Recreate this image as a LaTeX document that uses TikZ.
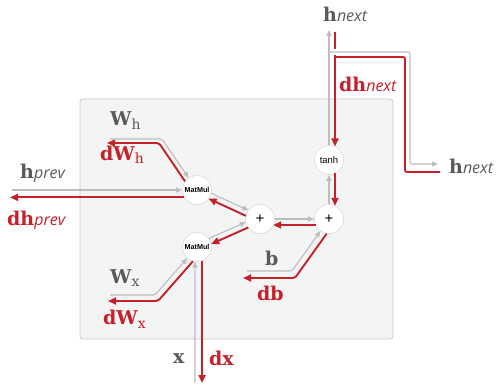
\documentclass[tikz,border=0pt]{standalone}
\usepackage{fontspec}
\setmainfont{DejaVu Serif}
\newfontfamily\subsans{Open Sans}
\newfontfamily\opfont{Liberation Sans}
\usetikzlibrary{arrows.meta,calc}

\definecolor{fwd}{HTML}{BDBDBD}
\definecolor{bwd}{HTML}{C4212B}
\definecolor{lbl}{HTML}{5A5A5A}
\definecolor{panel}{HTML}{F3F4F4}
\definecolor{panelrim}{HTML}{C8CACA}

% subscripts: italic sans for names, upright serif (lowered) for weight indices
\newcommand\lsub[1]{{\fontsize{16}{16}\selectfont\subsans\itshape\mdseries #1}}
\newcommand\lsubr[2][4pt]{\raisebox{-#1}{\fontsize{14}{14}\selectfont\mdseries #2}}

\begin{document}
\begin{tikzpicture}[x=1pt,y=-1pt,
  op/.style={circle, draw=black!14, line width=0.6pt, fill=white,
             minimum size=29pt, inner sep=0pt},
  fw/.style={draw=fwd, line width=1.1pt, rounded corners=2pt,
             -{Triangle[length=6pt,width=5pt]}},
  bw/.style={draw=bwd, line width=1.9pt, rounded corners=2pt,
             -{Triangle[length=8pt,width=7pt]}},
  bwplain/.style={draw=bwd, line width=1.9pt, rounded corners=2pt},
  near/.style={shorten <=14.2pt, shorten >=14.2pt},
  far/.style={shorten <=13.2pt, shorten >=13.2pt},
  gl/.style={anchor=base west, inner sep=0pt, text=lbl,
             font=\fontsize{19}{19}\selectfont\bfseries},
  rl/.style={gl, text=bwd},
  mmtext/.style={font=\fontsize{7.2}{7.2}\selectfont\opfont\bfseries},
]
\useasboundingbox (0,0) rectangle (497,385);

% cell panel
\draw[fill=panel, draw=panelrim, line width=0.8pt, rounded corners=3pt]
  (80,99) rectangle (393,339);

% operation nodes
\node[op, mmtext] (mm1) at (197,190) {MatMul};
\node[op, mmtext] (mm2) at (197,247) {MatMul};
\node[op, font=\fontsize{15}{15}\selectfont\opfont] (p1) at (260,219) {+};
\node[op, font=\fontsize{15}{15}\selectfont\opfont] (p2) at (329,219) {+};
\node[op, font=\fontsize{9.5}{9.5}\selectfont\opfont] (th) at (329,160) {tanh};

% free ends and bends
\coordinate (hpS) at (12,190);
\coordinate (dhpE) at (10,197);
\coordinate (whS) at (110,139);
\coordinate (whC) at (162,139);
\coordinate (dwhC) at (159,143);
\coordinate (dwhE) at (107,143);
\coordinate (wxS) at (110,295);
\coordinate (wxC) at (155,295);
\coordinate (dwxC) at (158,301);
\coordinate (dwxE) at (108,301);
\coordinate (bS) at (247,271);
\coordinate (bC) at (292,271);
\coordinate (dbC) at (295,278);
\coordinate (dbE) at (243,278);
\coordinate (xS) at (195,383);
\coordinate (dxE) at (202,383);
\coordinate (hnT) at (329,30);
\coordinate (dhnT) at (335,32);
\coordinate (brA) at (329,52);
\coordinate (brB) at (410,52);
\coordinate (brC) at (410,164);
\coordinate (hnR) at (438,164);
\coordinate (dhnR) at (440,172);
\coordinate (rC1) at (405,172);
\coordinate (rC2) at (405,57);

% ---- backward pass (red) ----
\draw[bw] (mm1.210) -- (mm1.210 -| dhpE);
\draw[bw] (mm1.144) -- (dwhC) -- (dwhE);
\draw[bw] (mm2.254) -- (dwxC) -- (dwxE);
\draw[bw] (p2.261) -- (dbC) -- (dbE);
\draw[bw] (mm2.290) -- (mm2.290 |- dxE);
\draw[bw, near] ($(p1)!3pt!90:(mm1)$) -- ($(mm1)!3pt!-90:(p1)$);
\draw[bw, near] ($(p1)!3pt!90:(mm2)$) -- ($(mm2)!3pt!-90:(p1)$);
\draw[bw, far] ($(p2)!6pt!90:(p1)$) -- ($(p1)!6pt!-90:(p2)$);
\draw[bw, far] ($(th)!6pt!90:(p2)$) -- ($(p2)!6pt!-90:(th)$);
\draw[bw] (th.66 |- dhnT) -- (th.66);
\draw[bwplain] (dhnR) -- (rC1) -- (rC2) -- (th.66 |- rC2);

% ---- forward pass (grey) ----
\draw[fw] (hpS) -- (mm1);
\draw[fw] (whS) -- (whC) -- (mm1);
\draw[fw] (wxS) -- (wxC) -- (mm2);
\draw[fw] (bS) -- (bC) -- (p2);
\draw[fw] (xS) -- (mm2.262);
\draw[fw, near] ($(mm1)!3pt!90:(p1)$) -- ($(p1)!3pt!-90:(mm1)$);
\draw[fw, near] ($(mm2)!3pt!90:(p1)$) -- ($(p1)!3pt!-90:(mm2)$);
\draw[fw] (p1.east) -- (p2.west);
\draw[fw] (p2.north) -- (th.south);
\draw[fw, preaction={draw=white, line width=6pt, -}] (brA) -- (brB) -- (brC) -- (hnR);
\draw[fw] (th) -- (hnT);

% ---- labels ----
\node[gl] (lhp)  at (20,178)  {h\lsub{prev}};
\node[rl] (ldhp) at (7,225)   {dh\lsub{prev}};
\node[gl] (lwh)  at (110,125) {W\lsubr[4pt]{h}};
\node[rl] (ldwh) at (100,160) {dW\lsubr[3pt]{h}};
\node[gl] (lwx)  at (110,283) {W\lsubr[3pt]{x}};
\node[rl] (ldwx) at (103,324) {dW\lsubr[4pt]{x}};
\node[gl] (lb)   at (265,265) {b};
\node[rl] (ldb)  at (257,300) {db};
\node[gl] (lx)   at (173,363) {x};
\node[rl] (ldx)  at (209,365) {dx};
\node[gl] (lhnT) at (323,22)  {h\lsub{next}};
\node[gl] (lhnR) at (449,173) {h\lsub{next}};
\node[rl] (ldhn) at (339,92)  {dh\lsub{next}};
\end{tikzpicture}
\end{document}
